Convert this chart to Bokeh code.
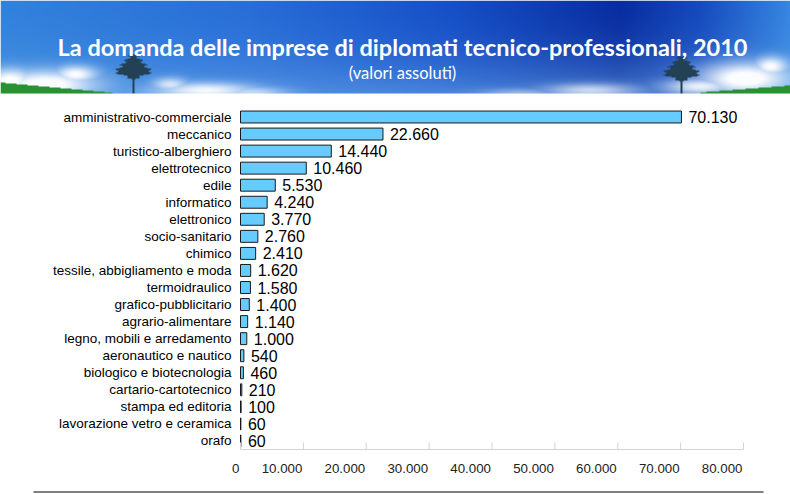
import numpy as np
from bokeh.plotting import figure
from bokeh.models import Range1d, ColumnDataSource
from bokeh.embed import file_html
from bokeh.resources import INLINE
from bokeh.core.properties import value

# ---------------- data ----------------
categories = [
    "amministrativo-commerciale", "meccanico", "turistico-alberghiero",
    "elettrotecnico", "edile", "informatico", "elettronico", "socio-sanitario",
    "chimico", "tessile, abbigliamento e moda", "termoidraulico",
    "grafico-pubblicitario", "agrario-alimentare", "legno, mobili e arredamento",
    "aeronautico e nautico", "biologico e biotecnologia", "cartario-cartotecnico",
    "stampa ed editoria", "lavorazione vetro e ceramica", "orafo",
]
values = [70130, 22660, 14440, 10460, 5530, 4240, 3770, 2760, 2410, 1620,
          1580, 1400, 1140, 1000, 540, 460, 210, 100, 60, 60]
tick_values = [0, 10000, 20000, 30000, 40000, 50000, 60000, 70000, 80000]
tick_labels = ["0", "10.000", "20.000", "30.000", "40.000", "50.000",
               "60.000", "70.000", "80.000"]
title_text = "La domanda delle imprese di diplomati tecnico-professionali, 2010"
subtitle_text = "(valori assoluti)"

value_labels = [f"{v:,}".replace(",", ".") for v in values]
n = len(categories)
slots = list(range(n - 1, -1, -1))  # top category gets the highest slot

# ---------------- layout geometry (page pixels) ----------------
W, H = 790, 494
PAGE_X0, PAGE_Y0 = 0, 0
ZERO_X = 240.0          # page x of value 0
FULL_X = 743.0          # page x of value 80000
XMAX = tick_values[-1]
SX = (FULL_X - ZERO_X) / XMAX
PITCH = 17.05
FIRST_Y = 116.5         # page y of first category centre

x_start = -(ZERO_X - PAGE_X0) / SX
x_end = (PAGE_X0 + W - ZERO_X) / SX
y_end = (n - 1) + (FIRST_Y - PAGE_Y0) / PITCH
y_start = (n - 1) - (PAGE_Y0 + H - FIRST_Y) / PITCH


def px2x(px):
    return (px - ZERO_X) / SX


def px2y(py):
    return (n - 1) - (py - FIRST_Y) / PITCH


p = figure(width=W, height=H, x_range=Range1d(x_start, x_end),
           y_range=Range1d(y_start, y_end), toolbar_location=None,
           output_backend="svg", min_border=0)
p.axis.visible = False
p.grid.visible = False
p.outline_line_color = None
p.background_fill_color = "white"

# ---------------- header (decorative sky band) ----------------
HB = 93.0  # page y of header bottom
hw, hh = W, int(HB - PAGE_Y0)
xs = np.arange(hw) + PAGE_X0 + 0.5
ys = np.arange(hh) + PAGE_Y0 + 0.5
X, Y = np.meshgrid(xs, ys)
kx = [0, 250, 450, 620, 700, 790]
R = np.interp(X, kx, [50, 40, 22, 8, 22, 55])
G = np.interp(X, kx, [130, 110, 80, 45, 75, 135])
B = np.interp(X, kx, [220, 215, 200, 160, 190, 225])
t = np.clip(Y / 92.0, 0, 1) ** 2 * 0.5
R = R * (1 - t) + 120 * t
G = G * (1 - t) + 180 * t
B = B * (1 - t) + 238 * t
clouds = [(45, 84, 50, 14, 1.0), (75, 74, 22, 9, 0.9), (10, 80, 25, 12, 0.95),
          (205, 90, 50, 8, 0.85), (170, 84, 18, 7, 0.7), (250, 92, 35, 6, 0.6),
          (745, 78, 45, 16, 1.0), (770, 66, 18, 10, 0.9), (700, 86, 35, 8, 0.8),
          (590, 90, 45, 7, 0.65), (520, 93, 40, 5, 0.4)]
a = np.zeros_like(X)
for cx, cy, sx_, sy_, s in clouds:
    a = np.maximum(a, s * np.exp(-(((X - cx) / sx_) ** 2 + ((Y - cy) / sy_) ** 2)))
a = np.clip(a * 1.15, 0, 1)
R = R * (1 - a) + 250 * a
G = G * (1 - a) + 252 * a
B = B * (1 - a) + 255 * a
gmask = ((X < 112) & (Y > 82 + X * 10 / 110)) | ((X > 700) & (Y > 92 - (X - 700) * 7 / 90))
R[gmask], G[gmask], B[gmask] = 40, 145, 50
for cx, top in ((133, 54), (681, 56)):
    tm = (np.abs(X - cx) < 1.2) & (Y > top + 8)
    d = Y - top
    half = np.minimum(d * 0.9 + 2, (25 - d) * 2.5)
    half = half + 2.5 * np.sin(d * 1.4)
    half = np.where((d >= 0) & (d <= 25), half, -100)
    cm = np.abs(X - cx) < half
    m = tm | cm
    R[m], G[m], B[m] = 35, 65, 85
img = np.empty((hh, hw), dtype=np.uint32)
view = img.view(dtype=np.uint8).reshape((hh, hw, 4))
view[..., 0] = np.clip(R, 0, 255).astype(np.uint8)
view[..., 1] = np.clip(G, 0, 255).astype(np.uint8)
view[..., 2] = np.clip(B, 0, 255).astype(np.uint8)
view[..., 3] = 255
p.image_rgba(image=[np.flipud(img)], x=x_start, y=px2y(HB),
             dw=W / SX, dh=(HB - PAGE_Y0) / PITCH)

p.text(x=[px2x(402)], y=[px2y(46)], text=[title_text], text_font=value("Lato"),
       text_font_style="bold", text_font_size="23.5px", text_color="white",
       text_align="center", text_baseline="middle")
p.text(x=[px2x(402)], y=[px2y(72)], text=[subtitle_text], text_font=value("Lato"),
       text_font_size="16.5px", text_color="white",
       text_align="center", text_baseline="middle")

# ---------------- bars ----------------
src = ColumnDataSource(dict(cat=categories, slot=slots, val=values, lab=value_labels))
p.hbar(y="slot", left=0, right="val", height=0.7, source=src,
       fill_color="#66CCFF", line_color="#1a1a1a", line_width=1)
p.text(x="val", y="slot", text="lab", source=src, x_offset=7,
       text_baseline="middle", text_align="left",
       text_font=value("Liberation Sans"), text_font_size="16px", text_color="black")
p.text(x=0, y="slot", text="cat", source=src, x_offset=-9,
       text_baseline="middle", text_align="right",
       text_font=value("Liberation Sans"), text_font_size="13.5px", text_color="black")

# ---------------- x axis ----------------
axis_y = -0.5
p.segment(x0=[0], y0=[axis_y], x1=[XMAX], y1=[axis_y], line_color="#d4d4d4", line_width=1)
tsrc = ColumnDataSource(dict(x=tick_values, y0=[axis_y] * len(tick_values),
                             y1=[axis_y + 7 / PITCH] * len(tick_values),
                             yl=[px2y(468)] * len(tick_values), t=tick_labels))
p.segment(x0="x", y0="y0", x1="x", y1="y1", source=tsrc, line_color="#d4d4d4", line_width=1)
p.text(x="x", y="yl", text="t", source=tsrc, x_offset=-1, text_align="right",
       text_baseline="middle", text_font=value("Liberation Sans"),
       text_font_size="13.3px", text_color="#222222")

# ---------------- bottom separator ----------------
p.segment(x0=[px2x(33)], y0=[px2y(491.5)], x1=[px2x(763)], y1=[px2y(491.5)],
          line_color="#7f7f7f", line_width=2)

open("out.html", "w").write(file_html(p, INLINE))
